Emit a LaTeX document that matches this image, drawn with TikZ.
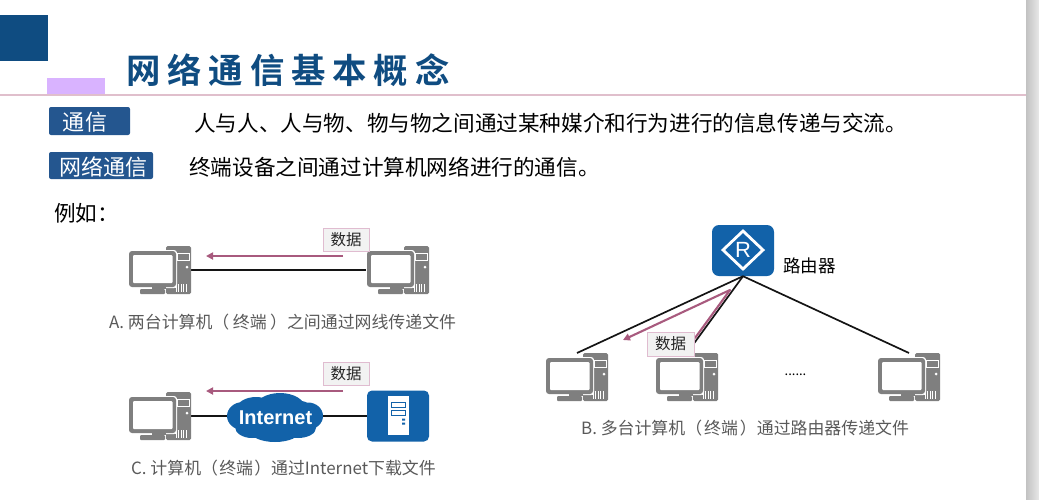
\documentclass[tikz,border=0pt]{standalone}
\usepackage{fontspec}
\usetikzlibrary{arrows.meta}
\setmainfont{Noto Sans CJK SC}
\newfontfamily\titlefont[LetterSpace=20]{Noto Sans CJK SC Bold}
\newfontfamily\latinbold{Liberation Sans Bold}
\newfontfamily\latinreg{Liberation Sans}
\definecolor{navy}{HTML}{0F4C81}
\definecolor{tagblue}{HTML}{24568F}
\definecolor{iconblue}{HTML}{1262A9}
\definecolor{pcgray}{HTML}{7F7F7F}
\definecolor{datapink}{HTML}{A85A7E}
\definecolor{boxpink}{HTML}{E0BCD0}
\definecolor{rulepink}{HTML}{E0BFCC}
\definecolor{capgray}{HTML}{595959}
\definecolor{lilac}{HTML}{D9B3FF}
\newcommand{\lp}[1]{（\kern#1pt}
\newcommand{\rp}[1]{\kern#1pt）}
\tikzset{
  px/.style={font=\fontsize{#1}{#1}\selectfont},
  body/.style={px=21.6,anchor=west,inner sep=0pt,text=black},
  caption/.style={px=16.9,anchor=west,inner sep=0pt,text=capgray},
  tagtext/.style={px=22,text=white,inner sep=0pt},
  pcbox/.style={minimum width=62pt,minimum height=48pt,inner sep=0pt,outer sep=0pt},
  srvbox/.style={minimum width=62pt,minimum height=51pt,inner sep=0pt,outer sep=0pt,fill=iconblue,rounded corners=5pt},
  databox/.style={px=15.5,fill=black!5,draw=boxpink,line width=1pt,minimum width=46pt,minimum height=23pt,inner sep=0pt,text=black!85},
  link/.style={line width=1.7pt,black!92},
  dataflow/.style={line width=2.1pt,datapink,-{Triangle[length=7pt,width=7pt]}},
  dataplain/.style={line width=2.1pt,datapink},
  pcicon/.pic={
    \fill[pcgray,rounded corners=1.5pt] (37,0) rectangle (62,48);
    \fill[white] (45.5,6) rectangle (48,42);
    \draw[white,line width=.9pt] (48,7.5) rectangle (60,14.5);
    \fill[white] (58,21) circle (1.5);
    \foreach \vx in {47,49.5,52,54.5,57}{\draw[white,line width=.8pt] (\vx,38) -- (\vx,45.5);}
    \fill[white,rounded corners=3pt] (-1,4) rectangle (48,42);
    \fill[pcgray,rounded corners=3pt] (0,5) rectangle (47,41);
    \fill[white,rounded corners=1pt] (4,9) rectangle (43.5,37);
    \fill[pcgray] (23,41) rectangle (37,43);
    \fill[pcgray,rounded corners=1pt] (11,43) rectangle (36,48);
  }
}
\begin{document}
\begin{tikzpicture}[x=1pt,y=-1pt]
\useasboundingbox (0,0) rectangle (1039,499);
% sidebar
\shade[left color=black!24,right color=black!9] (1026,0) rectangle (1039,499);
% header
\fill[navy] (0,15) rectangle (48,61);
\fill[lilac] (47,78) rectangle (105,95);
\draw[rulepink,line width=1.5pt] (0,95) -- (1026,95);
\node[px=34.4,anchor=west,inner sep=0pt,text=navy] (title) at (126,70) {\titlefont 网络通信基本概念};
% tags
\fill[tagblue,rounded corners=2pt] (49,135) -- (49,107) -- (130,107) -- (130,135) -- cycle;
\node[tagtext] (t1) at (85,122) {通\kern1pt 信};
\fill[tagblue,rounded corners=2pt] (49,179) -- (49,152) -- (153,152) -- (153,179) -- cycle;
\node[tagtext] (t2) at (103.5,167) {网络通信};
\node[body] (b1) at (194,123) {人与人、人与物、物与物之间通过某种媒介和行为进行的信息传递与交流。};
\node[body] (b2) at (189,167) {终端设备之间通过计算机网络进行的通信。};
\node[body] (eg) at (54,213) {例如：};
% A
\node[pcbox] (pc1) at (160,270) {};
\node[pcbox] (pc2) at (398,270) {};
\draw[link] (pc1.east) -- (pc2.west);
\pic at (pc1.north west) {pcicon};
\pic at (pc2.north west) {pcicon};
\coordinate (a1) at (343,256);
\coordinate (a2) at (206,256);
\draw[dataflow] (a1) -- (a2);
\node[databox] (da) at (346,240) {数据};
\node[caption] (ca) at (109,322) {A. 两台计算机\lp{3.5}终端\rp{3.5}之间通过网线传递文件};
% C
\node[pcbox] (pc3) at (160,416) {};
\node[srvbox] (srv) at (398,416) {};
\node[minimum width=96pt,minimum height=48pt,inner sep=0pt] (cloud) at (275,416) {};
\draw[link] (pc3.east) -- (cloud.west);
\draw[link] (cloud.east) -- (srv.west);
\fill[iconblue] (275,419) ellipse (41 and 20)
  (243,416) ellipse (16 and 14) (308,416) ellipse (15 and 13.5)
  (256,410) ellipse (20 and 13) (280,408) ellipse (25 and 15)
  (300,412) ellipse (14 and 11)
  (252,427) ellipse (17 and 11) (298,428) ellipse (18 and 10)
  (275,431) ellipse (25 and 11);
\node[text=white,inner sep=0pt,px=20] (inet) at (275.5,418) {\latinbold Internet};
\pic at (pc3.north west) {pcicon};
\fill[white] (388,396) rectangle (409,435);
\draw[iconblue,line width=1pt] (391,402) rectangle (405,407.5) (391,410) rectangle (405,415.5);
\fill[iconblue] (402,418.5) rectangle (405,420.5) (402,422.5) rectangle (405,424.5);
\coordinate (c1) at (343,391);
\coordinate (c2) at (206,391);
\draw[dataflow] (c1) -- (c2);
\node[databox] (dc) at (346,374) {数据};
\node[caption] (cc) at (131,468) {C. 计算机\lp{1.2}终端\rp{1.2}通过Internet下载文件};
% B
\node[inner sep=0pt,minimum width=62pt,minimum height=51pt,fill=iconblue,rounded corners=7pt] (router) at (743,250.5) {};
\draw[white,line width=2.8pt] (743,231) -- (763,250) -- (743,269) -- (723,250) -- cycle;
\node[px=22,text=white,inner sep=0pt] (rl) at (743,250) {\latinreg R};
\node[px=17.5,anchor=west,inner sep=0pt,text=black] (rt) at (783,266) {路由器};
\node[pcbox] (pc4) at (577,377) {};
\node[pcbox] (pc5) at (687,377) {};
\node[pcbox] (pc6) at (909,377) {};
\pic at (pc4.north west) {pcicon};
\pic at (pc5.north west) {pcicon};
\pic at (pc6.north west) {pcicon};
\draw[link] (router.south) -- (pc4.north);
\draw[link] (router.south) -- (pc5.north);
\draw[link] (router.south) -- (pc6.north);
\coordinate (b0) at (730,290);
\coordinate (b1e) at (623,340);
\coordinate (b2e) at (695,338);
\draw[dataplain,line cap=round] (b2e) -- (b0);
\draw[dataflow] (b0) -- (b1e);
\node[databox,minimum width=47pt,minimum height=24pt] (db) at (670.5,344) {数据};
\node[px=13,inner sep=0pt,text=black] (dots) at (795.5,375) {......};
\node[caption] (cb) at (581,428.5) {B. 多台计算机\lp{2}终端\rp{2}通过路由器传递文件};
\end{tikzpicture}
\end{document}
